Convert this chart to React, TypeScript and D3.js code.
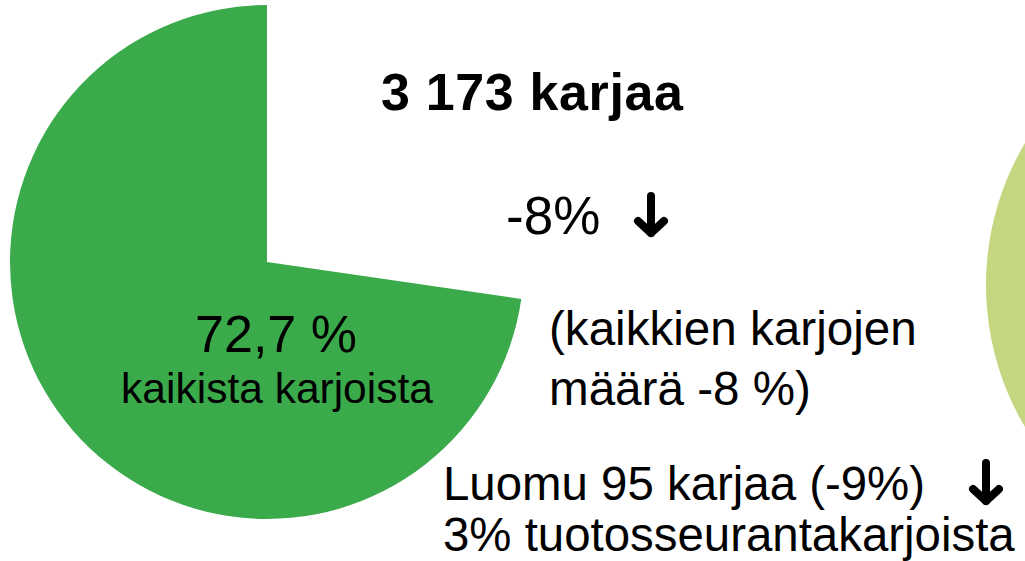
import { pie, arc, PieArcDatum } from 'd3';

const width = 1025;
const height = 561;

// herd share (%) - green slice is the visible one, rest is empty
const sliceLabels = ['muut', 'tuotosseuranta'];
const sliceValues = [27.3, 72.7];
const sliceColors = ['none', '#3aaa4b'];

const titleText = '3 173 karjaa';
const changeText = '-8%';
const shareLines = ['72,7 %', 'kaikista karjoista'];
const noteLines = ['(kaikkien karjojen', 'määrä -8 %)'];
const organicLines = ['Luomu 95 karjaa (-9%)', '3% tuotosseurantakarjoista'];

const font = 'Liberation Sans, Arial, sans-serif';

const cx = 267;
const cy = 262;
const radius = 257;

const pieGen = pie<number>().sort(null).value(d => d);
const arcGen = arc<PieArcDatum<number>>().innerRadius(0).outerRadius(radius);

// neighbouring chart, only its edge is visible
const sideArc = arc<any>().innerRadius(0).outerRadius(278).startAngle(0).endAngle(2 * Math.PI);

const DownArrow = ({ x, top, bottom, half }: { x: number; top: number; bottom: number; half: number }) => (
  <g stroke="#000" strokeWidth={8} strokeLinecap="round" strokeLinejoin="round" fill="none">
    <line x1={x} y1={top} x2={x} y2={bottom - 3} />
    <polyline points={`${x - half},${bottom - half - 2} ${x},${bottom - 3} ${x + half},${bottom - half - 2}`} />
  </g>
);

const App = () => {
  const arcs = pieGen(sliceValues);
  return (
    <svg width={width} height={height} style={{ position: 'absolute', left: 0, top: 0, background: '#fff' }}>
      <path d={sideArc({}) as string} transform="translate(1264,285)" fill="#c4d67f" />
      <g transform={`translate(${cx},${cy})`}>
        {arcs.map((d, i) => (
          <path key={sliceLabels[i]} d={arcGen(d) as string} fill={sliceColors[i]} />
        ))}
      </g>
      <text x={381} y={110} fontFamily={font} fontWeight="bold" fontSize={52} textLength={302} lengthAdjust="spacing">
        {titleText}
      </text>
      <text x={506} y={234} fontFamily={font} fontSize={53}>{changeText}</text>
      <DownArrow x={651} top={196} bottom={236} half={13} />
      <text x={276} y={352} fontFamily={font} fontSize={52} textAnchor="middle">{shareLines[0]}</text>
      <text x={277} y={403} fontFamily={font} fontSize={42.5} textAnchor="middle">{shareLines[1]}</text>
      {noteLines.map((t, i) => (
        <text key={t} x={549} y={345 + i * 60} fontFamily={font} fontSize={47.6}>{t}</text>
      ))}
      {organicLines.map((t, i) => (
        <text key={t} x={443} y={500 + i * 51} fontFamily={font} fontSize={47.4}>{t}</text>
      ))}
      <DownArrow x={986} top={463} bottom={504} half={13} />
    </svg>
  );
};

export default App;
